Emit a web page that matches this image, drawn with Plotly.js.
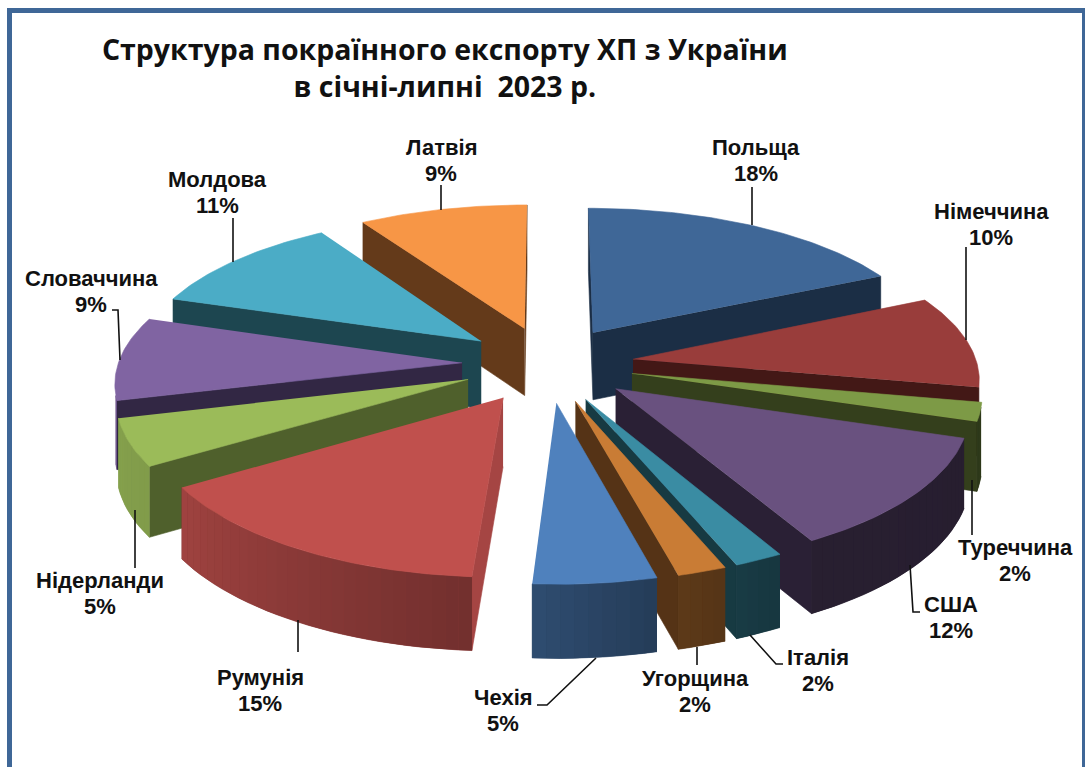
<!DOCTYPE html>
<html><head><meta charset="utf-8">
<script src="https://cdn.plot.ly/plotly-3.0.1.min.js"></script>
<style>html,body{margin:0;padding:0;background:#fff}#c{width:1085px;height:767px}</style>
</head><body><div id="c"></div>
<script>
// ---- data ----
const countries = ['Польща','Німеччина','Туреччина','США','Італія','Угорщина','Чехія','Румунія','Нідерланди','Словаччина','Молдова','Латвія'];
const shares = [18,10,2,12,2,2,5,15,5,9,11,9];
const titleLines = ['Структура покраїнного експорту ХП з України','в січні-липні  2023 р.'];

// ---- styles ----
const topColors = ['#3f6797','#993d3b','#7d9a46','#69517f','#3a8ca3','#c97c35','#4f81bd','#c0504d','#9bbb59','#8064a2','#4bacc6','#f79646'];
const sideColors = ['#1b2e45','#431816','#343f1c','#2a2035','#173a42','#553316','#2c4a6e','#a54543','#4f602c','#322744','#1d4650','#643a1a'];
const labelAt = [[756,160],[991,224],[1015,560],[951,617],[818,670],[695,691],[503,710],[260,690],[100,593],[91,291],[217,192],[441,160]];
const leaders = [
 [[752,187],[752,225]],[[966,247],[966,340]],[[972,480],[972,535]],
 [[910,565],[913,612],[920,612]],[[750,635],[776,664],[783,664]],[[697,647],[697,665]],
 [[596,658],[547,705],[537,705]],[[298,620],[298,652]],[[135,510],[135,568]],
 [[120,360],[118,310],[112,310]],[[233,218],[233,262]],[[441,185],[441,210]]];
const shade = [[0,.35],[150,.38],[165,.46],[183,.59],[237,.83],[270,.88],[360,.9]];

// ---- 3D pie projection ----
const view = {cx:548, cy:364, rx:344, ry:147.5, perspX:.115, perspY:.126, depth:68, pullX:.25, pullY:.258, rimCut:-.22};
const rad = d => d*Math.PI/180;
function project(X,Y,z){
  const sx = 1/(1+view.perspX*Y), sy = 1/(1+view.perspY*Y);
  return [view.cx+view.rx*X*sx, view.cy-view.ry*Y*sy+view.depth*z*Math.sqrt(sy)];
}
function poly(points,color,name,noLine){
  const p = points.map(q=>project(q[0],q[1],q[2]));
  return {type:'scatter',mode:noLine?'none':'lines',x:p.map(q=>q[0]),y:p.map(q=>q[1]),fill:'toself',fillcolor:color,
    line:{color:color,width:.6},name:name,hoverinfo:'skip',showlegend:false};
}
function dim(hex,f){
  const n=parseInt(hex.slice(1),16);
  return 'rgb('+[(n>>16)&255,(n>>8)&255,n&255].map(v=>Math.round(v*f)).join(',')+')';
}
function shadeAt(t){
  for(let i=1;i<shade.length;i++){ if(t<=shade[i][0]){
    const a=shade[i-1],b=shade[i]; return a[1]+(b[1]-a[1])*(t-a[0])/(b[0]-a[0]); } }
  return .9;
}
const facing=(X,Y,nx,ny)=>((0-X)*nx+(-1/view.perspY-Y)*ny)>0;

const total = shares.reduce((a,b)=>a+b,0);
let cum = 0;
const slices = shares.map((v,i)=>{
  const a0=cum/total*360; cum+=v; const a1=cum/total*360; const b=(a0+a1)/2;
  return {i,a0,a1,ox:view.pullX*Math.sin(rad(b)),oy:view.pullY*Math.cos(rad(b))};
});
const order = slices.slice().sort((p,q)=>q.oy-p.oy);
const traces=[];
order.forEach(sl=>{
  const {i,a0,a1,ox,oy}=sl;
  const rim=t=>[ox+Math.sin(rad(t)),oy+Math.cos(rad(t))];
  const n=Math.max(2,Math.ceil((a1-a0)/2));
  const arcs=[],upper=[],lower=[];
  let shadeSum=0;
  for(let k=0;k<n;k++){
    const t0=a0+(a1-a0)*k/n,t1=a0+(a1-a0)*(k+1)/n,tm=(t0+t1)/2;
    if(Math.cos(rad(tm))>view.rimCut) continue;
    const p0=rim(t0),p1=rim(t1);
    arcs.push(poly([[p0[0],p0[1],0],[p1[0],p1[1],0],[p1[0],p1[1],1],[p0[0],p0[1],1]],dim(topColors[i],shadeAt(tm)),countries[i],true));
    if(!upper.length){upper.push([p0[0],p0[1],0]);lower.unshift([p0[0],p0[1],1]);}
    upper.push([p1[0],p1[1],0]);lower.unshift([p1[0],p1[1],1]);
    shadeSum+=shadeAt(tm);
  }
  const wall=(t,sign)=>{
    const r=rim(t),nx=Math.sin(rad(t+sign*90)),ny=Math.cos(rad(t+sign*90));
    if(!facing(ox,oy,nx,ny)) return null;
    return poly([[ox,oy,0],[r[0],r[1],0],[r[0],r[1],1],[ox,oy,1]],sideColors[i],countries[i]);
  };
  [wall(a0,-1),wall(a1,1)].forEach(w=>{if(w)traces.push(w)});
  if(arcs.length){
    traces.push(poly(upper.concat(lower),dim(topColors[i],shadeSum/arcs.length),countries[i]));
    traces.push(...arcs);
  }
  const pts=[[ox,oy,0]];
  for(let k=0;k<=n*2;k++){const r=rim(a0+(a1-a0)*k/(n*2));pts.push([r[0],r[1],0]);}
  traces.push(poly(pts,topColors[i],countries[i]));
});

const labelFont={family:'Liberation Sans',size:22,color:'#111'};
const annotations=[];
countries.forEach((c,i)=>{
  annotations.push({x:labelAt[i][0],y:labelAt[i][1]-13,xref:'x',yref:'y',showarrow:false,text:'<b>'+c+'</b>',font:labelFont});
  annotations.push({x:labelAt[i][0],y:labelAt[i][1]+13,xref:'x',yref:'y',showarrow:false,text:'<b>'+shares[i]+'%</b>',font:labelFont});
});

const shapes = leaders.map(l=>({type:'path',xref:'x',yref:'y',
  path:l.map((p,k)=>(k?'L':'M')+p[0]+' '+p[1]).join(' '),line:{color:'#111',width:1.6}}));
const frame='#3f6797';
[[7,8,1085,13],[7,8,12,767],[1082,8,1085,767]].forEach(r=>shapes.push({type:'rect',xref:'x',yref:'y',
  x0:r[0],y0:r[1],x1:r[2],y1:r[3],fillcolor:frame,line:{width:0},layer:'below'}));

Plotly.newPlot('c',traces,{
  width:1085,height:767,margin:{l:0,r:0,t:0,b:0},paper_bgcolor:'#fff',plot_bgcolor:'#fff',showlegend:false,
  title:{text:'<b>'+titleLines.join('</b><br><b>')+'</b>',x:.41,xanchor:'center',xref:'paper',y:.922,yanchor:'top',
    font:{family:'Open Sans',size:28.5,color:'#111'}},
  xaxis:{range:[0,1085],visible:false,fixedrange:true},
  yaxis:{range:[767,0],visible:false,fixedrange:true},
  annotations,shapes
},{staticPlot:true,displayModeBar:false});
</script></body></html>
